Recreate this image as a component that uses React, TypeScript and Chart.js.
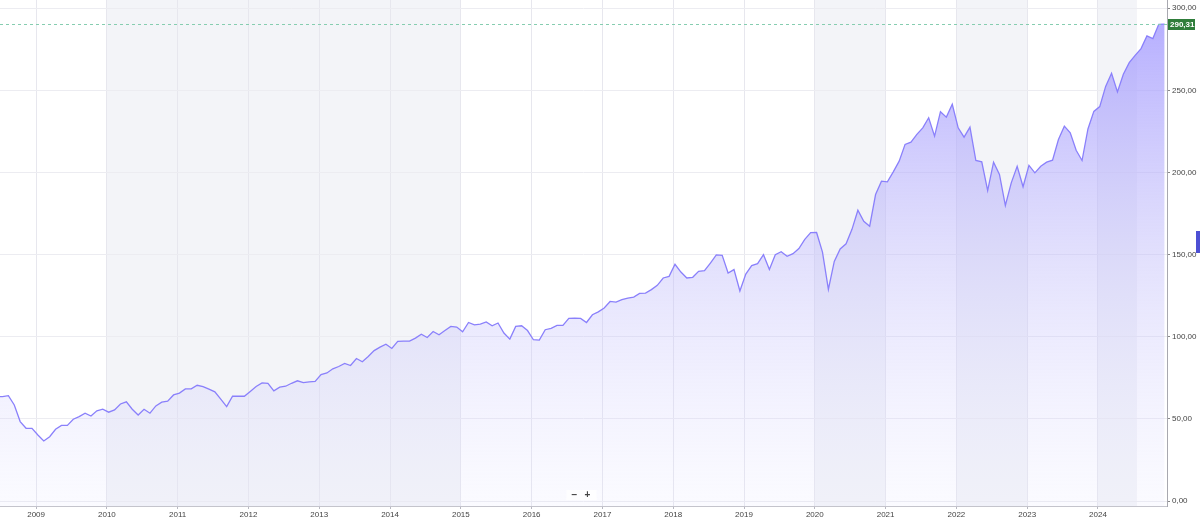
import React, { useEffect, useRef } from 'react';
import { Chart, registerables } from 'chart.js';

Chart.register(...registerables);

// Monthly closes, starting June 2008
const START_YEAR = 2008;
const START_MONTH = 6;
const VALUES: number[] = [
  63.6,
  63.6, 64.2, 58.5, 48.4, 44.3, 44.3,
  40.2, 36.6, 39.2, 43.7, 46.1, 46.1, 49.8, 51.4, 53.5, 51.8, 54.9, 55.9,
  54.1, 55.5, 59.1, 60.4, 55.9, 52.4, 55.9, 53.5, 57.9, 60.2, 60.8, 64.6,
  65.7, 68.3, 68.3, 70.5, 69.7, 68.1, 66.5, 62.0, 57.5, 63.8, 63.8, 63.8,
  66.7, 69.7, 71.9, 71.7, 67.1, 69.3, 69.9, 71.7, 73.2, 72.1, 72.6, 72.9,
  77.0, 78.0, 80.5, 81.9, 83.8, 82.5, 86.8, 84.8, 88.0, 91.6, 93.7, 95.5,
  92.9, 97.2, 97.4, 97.4, 99.2, 101.6, 99.6, 103.2, 101.2, 103.8, 106.3, 105.9,
  103.0, 108.7, 107.3, 107.7, 109.0, 106.7, 108.4, 102.3, 98.6, 106.3, 106.7, 103.8,
  98.2, 98.0, 104.3, 105.1, 106.9, 106.9, 111.2, 111.4, 111.2, 108.7, 113.4, 115.2,
  117.5, 121.5, 121.1, 122.6, 123.6, 124.2, 126.4, 126.6, 128.7, 131.3, 135.8, 136.8,
  144.1, 139.4, 135.8, 136.2, 139.8, 140.2, 144.9, 149.8, 149.6, 138.8, 140.9, 127.9,
  138.2, 143.3, 144.5, 150.0, 140.9, 150.0, 151.8, 149.0, 150.6, 153.7, 159.3, 163.4,
  163.5, 151.5, 128.9, 145.9, 153.5, 156.6, 165.4, 177.0, 170.3, 167.3, 186.6, 194.7,
  194.3, 200.4, 206.9, 217.1, 218.5, 223.2, 227.2, 233.3, 222.1, 237.0, 233.7, 241.5,
  227.2, 221.5, 227.6, 207.3, 206.5, 189.0, 206.3, 198.8, 179.9, 193.7, 203.8, 191.3,
  204.3, 199.8, 203.8, 206.3, 207.5, 220.1, 228.2, 224.2, 213.5, 207.3, 226.5, 237.2,
  240.1, 252.4, 260.4, 249.0, 259.8, 266.9, 271.3, 275.4, 283.1, 281.5, 290.2, 290.31,
];
const YEAR_TICKS = [2009, 2010, 2011, 2012, 2013, 2014, 2015, 2016, 2017, 2018, 2019, 2020, 2021, 2022, 2023, 2024];
const PRICE_TICKS = [0, 50, 100, 150, 200, 250, 300];
const SHADED_RANGES: [number, number][] = [
  [2010, 2015],
  [2020, 2021],
  [2022, 2023],
  [2024, 2024.55],
];
const LAST_PRICE = 290.31;
const LAST_PRICE_LABEL = '290,31';
const X_MIN = 2008.49;
const X_MAX = 2024.975;
const Y_MIN = -3;
const Y_MAX = 305;

const FONT = '"Liberation Sans", Arial, sans-serif';

const fmt = (v: number) => v.toFixed(2).replace('.', ',');

const decorPlugin = {
  id: 'decor',
  beforeDraw(chart: any) {
    const { ctx, chartArea, scales } = chart;
    const x = scales.x;
    ctx.save();
    ctx.fillStyle = '#f3f4f8';
    SHADED_RANGES.forEach(([a, b]) => {
      const x0 = x.getPixelForValue(a);
      const x1 = x.getPixelForValue(b);
      ctx.fillRect(x0, chartArea.top, x1 - x0, chartArea.bottom - chartArea.top);
    });
    ctx.restore();
  },
  afterDraw(chart: any) {
    const { ctx, chartArea, scales } = chart;
    const y = scales.y;
    const py = Math.round(y.getPixelForValue(LAST_PRICE)) + 0.5;
    ctx.save();
    // dashed last price line
    ctx.strokeStyle = '#86cdb0';
    ctx.lineWidth = 1;
    ctx.setLineDash([3, 3]);
    ctx.beginPath();
    ctx.moveTo(chartArea.left, py);
    ctx.lineTo(chartArea.right, py);
    ctx.stroke();
    ctx.setLineDash([]);
    // last price label
    ctx.fillStyle = '#2f7d3a';
    ctx.fillRect(chartArea.right + 1, py - 5.5, 27, 11);
    ctx.fillStyle = '#ffffff';
    ctx.font = `bold 8px ${FONT}`;
    ctx.textBaseline = 'middle';
    ctx.textAlign = 'left';
    ctx.fillText(LAST_PRICE_LABEL, chartArea.right + 3, py + 0.5);
    // right side tab
    ctx.fillStyle = '#4d50d4';
    ctx.fillRect(1196, 231, 4, 22);
    // zoom buttons
    const cx = (chartArea.left + chartArea.right) / 2 - 2;
    ctx.fillStyle = 'rgba(255,255,255,0.85)';
    ctx.fillRect(cx - 15, 490, 30, 10);
    ctx.fillStyle = '#444';
    ctx.font = `bold 10px ${FONT}`;
    ctx.textAlign = 'center';
    ctx.fillText('\u2212', cx - 7, 495);
    ctx.fillText('+', cx + 6, 495);
    ctx.restore();
  },
};

export default function App() {
  const canvasRef = useRef<HTMLCanvasElement | null>(null);

  useEffect(() => {
    document.body.style.margin = '0';
    const canvas = canvasRef.current;
    if (!canvas) return;
    const points = VALUES.map((v, i) => ({
      x: START_YEAR + (START_MONTH - 1 + i + 0.3) / 12,
      y: v,
    }));
    const chart = new Chart(canvas, {
      type: 'line',
      data: {
        datasets: [
          {
            data: points,
            borderColor: '#8a80fb',
            borderWidth: 1.3,
            pointRadius: 0,
            tension: 0,
            fill: 'start',
            backgroundColor: (c: any) => {
              const area = c.chart.chartArea;
              if (!area) return 'rgba(180,170,255,0.4)';
              const g = c.chart.ctx.createLinearGradient(0, area.top, 0, area.bottom);
              g.addColorStop(0, 'rgba(158,148,255,0.8)');
              g.addColorStop(0.5, 'rgba(190,185,250,0.45)');
              g.addColorStop(1, 'rgba(225,225,255,0.15)');
              return g;
            },
          },
        ],
      },
      options: {
        animation: false,
        responsive: true,
        maintainAspectRatio: false,
        layout: { padding: 0 },
        plugins: {
          legend: { display: false },
          tooltip: { enabled: false },
        },
        scales: {
          x: {
            type: 'linear',
            min: X_MIN,
            max: X_MAX,
            afterBuildTicks: (axis: any) => {
              axis.ticks = YEAR_TICKS.map((v) => ({ value: v }));
            },
            afterFit: (axis: any) => {
              axis.height = 15;
              axis.paddingLeft = 0;
              axis.paddingRight = 0;
            },
            grid: {
              color: '#e7e7ee',
              tickLength: 3,
              tickColor: '#b8b8c2',
            },
            border: { color: '#c4c4cc' },
            ticks: {
              padding: 1,
              maxRotation: 0,
              autoSkip: false,
              color: '#444',
              font: { family: FONT, size: 8 },
              callback: (v: any) => String(v),
            },
          },
          y: {
            type: 'linear',
            position: 'right',
            min: Y_MIN,
            max: Y_MAX,
            afterBuildTicks: (axis: any) => {
              axis.ticks = PRICE_TICKS.map((v) => ({ value: v }));
            },
            afterFit: (axis: any) => {
              axis.width = 33;
              axis.paddingTop = 0;
              axis.paddingBottom = 0;
            },
            grid: {
              color: '#ececf1',
              tickLength: 3,
              tickColor: '#888',
            },
            border: { color: '#a8a8b0' },
            ticks: {
              padding: 2,
              color: '#444',
              font: { family: FONT, size: 8 },
              callback: (v: any) => fmt(Number(v)),
            },
          },
        },
      },
      plugins: [decorPlugin],
    } as any);
    return () => chart.destroy();
  }, []);

  return (
    <div style={{ position: 'absolute', left: 0, top: 0, width: 1200, height: 521 }}>
      <canvas ref={canvasRef} />
    </div>
  );
}
